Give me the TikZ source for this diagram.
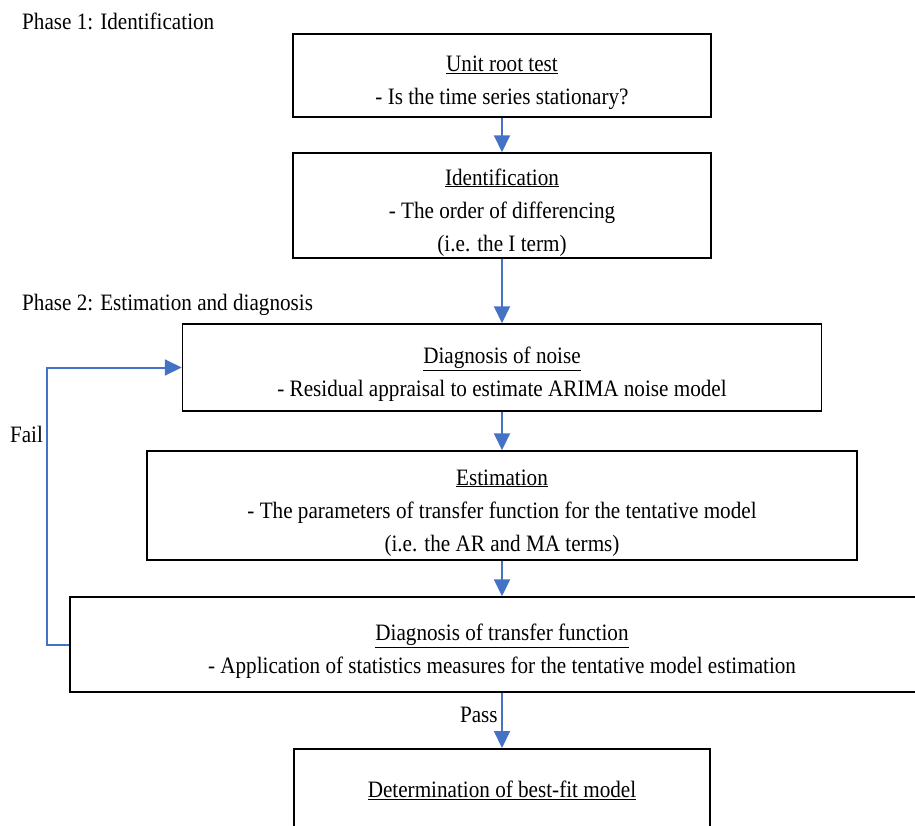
\documentclass[tikz,border=0pt]{standalone}
\usepackage{fontspec}
\setmainfont[FakeStretch=0.9]{Liberation Serif}
\usetikzlibrary{arrows.meta, positioning}
\definecolor{flowblue}{HTML}{4472C4}
% underlined box heading with extra room above
\newcommand{\boxtitle}[1]{\rule{0pt}{30pt}\underline{#1}}

\begin{document}
\begin{tikzpicture}[x=1pt, y=-1pt,
    box/.style={draw, line width=1.5pt, align=center, inner sep=0pt,
      font=\fontsize{23.5}{33}\selectfont},
    flow/.style={draw=flowblue, line width=2pt,
      -{Triangle[width=16pt, length=17pt, fill=flowblue]}},
    phase/.style={anchor=west, inner sep=0pt, font=\fontsize{23.5}{33}\selectfont},
    lbl/.style={font=\fontsize{23.5}{33}\selectfont}]

  \useasboundingbox (0,0) rectangle (915,825);
  \clip (0,0) rectangle (915,825);

  % Phase headings
  \node[phase] (phase1) at (22,21) {Phase 1: Identification};
  \node[phase] (phase2) at (22,305) {Phase 2: Estimation and diagnosis};

  % Boxes
  \node[box, minimum width=418pt, minimum height=83pt] (unitroot) at (502,75.5)
    {\boxtitle{Unit root test}\\- Is the time series stationary?};
  \node[box, minimum width=418pt, minimum height=105pt] (ident) at (502,205.5)
    {\boxtitle{Identification}\\- The order of differencing\\(i.e. the I term)};
  \node[box, minimum width=639pt, minimum height=87pt] (noise) at (502,367.5)
    {\boxtitle{Diagnosis of noise}\\- Residual appraisal to estimate ARIMA noise model};
  \node[box, minimum width=710pt, minimum height=109pt] (estim) at (502,505.5)
    {\boxtitle{Estimation}\\- The parameters of transfer function for the tentative model\\(i.e. the AR and MA terms)};
  \node[box, minimum width=864pt, minimum height=95pt] (transfer) at (502,644.5)
    {\boxtitle{Diagnosis of transfer function}\\- Application of statistics measures for the tentative model estimation};
  \node[box, anchor=north, minimum width=416pt, text height=49pt, text depth=80pt] (bestfit) at (502,748)
    {\underline{Determination of best-fit model}};

  % Flow arrows
  \draw[flow] (unitroot) -- (ident);
  \draw[flow] (ident) -- (noise);
  \draw[flow] (noise) -- (estim);
  \draw[flow] (estim) -- (transfer);
  \draw[flow] (transfer) -- node[lbl, left, pos=0.4] {Pass} (bestfit);

  % Feedback loop
  \draw[flow] (transfer.west) -- ++(-22,0) |- node[lbl, left, pos=0.38] {Fail} (noise.west);

\end{tikzpicture}
\end{document}
